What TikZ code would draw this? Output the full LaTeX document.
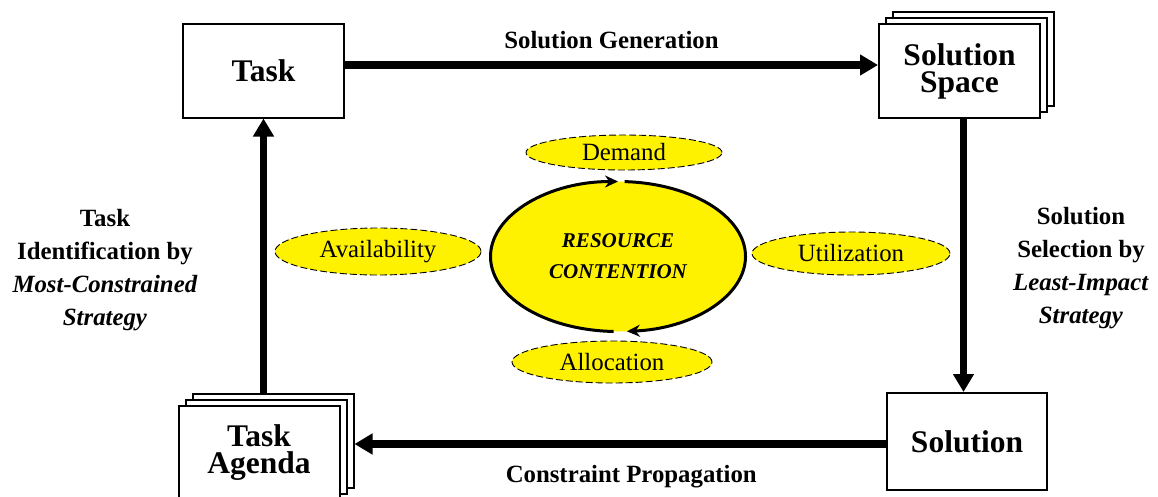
\documentclass[tikz,border=0pt]{standalone}
\usepackage{fontspec}
\setmainfont{Liberation Serif}
\usetikzlibrary{shapes.geometric,arrows.meta}
\newcommand{\BoxFont}{\fontsize{31.5}{27}\selectfont\bfseries}
\newcommand{\LblFont}{\fontsize{24.8}{33}\selectfont}
\newcommand{\RcFont}{\fontsize{21}{31}\selectfont\bfseries\itshape}

\begin{document}
\begin{tikzpicture}[x=1pt,y=-1pt,
box/.style={draw,fill=white,line width=2pt,minimum width=161pt,minimum height=94pt,inner sep=0pt,align=center,font=\BoxFont},
aspect/.style={ellipse,draw,dash pattern=on 7pt off 3pt,line width=0.9pt,fill=yellow,inner sep=0pt,font=\LblFont},
flow/.style={line width=7.5pt,-{Triangle[length=18pt,width=20pt]}},
loopline/.style={line width=3pt,-{Stealth[length=13pt,width=12pt]}},
lbl/.style={font=\LblFont\bfseries,align=center,inner sep=0pt}]

\useasboundingbox (0,0) rectangle (1158,496);

\node[box] (ss3) at (973.5,59) {};
\node[box] (ss2) at (966.5,65) {};
\node[box] (ss) at (959.5,71) {Solution\\Space};
\node[box] (task) at (263.5,70.5) {Task};
\node[box] (ta3) at (273,441) {};
\node[box] (ta2) at (266,447) {};
\node[box] (ta) at (259,453) {Task\\Agenda};
\node[box,minimum width=160pt,minimum height=97pt] (sol) at (967,441.5) {Solution};

\node[ellipse,fill=yellow,minimum width=255pt,minimum height=150pt,inner sep=0pt,align=center,font=\RcFont] (rc) at (618,256.5) {RESOURCE\\CONTENTION};
\node[aspect,minimum width=196pt,minimum height=35pt] (dem) at (624,152.5) {Demand};
\node[aspect,minimum width=206pt,minimum height=47pt] (avail) at (378,251.5) {Availability};
\node[aspect,minimum width=198pt,minimum height=43pt] (util) at (851,253.5) {Utilization};
\node[aspect,minimum width=200pt,minimum height=42pt] (alloc) at (612,362) {Allocation};

\draw[loopline] (rc.center) ++(273:127.5 and 75) arc[start angle=273,end angle=446,x radius=127.5,y radius=75];
\draw[loopline] (rc.center) ++(92:127.5 and 75) arc[start angle=92,end angle=270,x radius=127.5,y radius=75];

\node[lbl] (pick) at (105,270) {Task\\Identification by\\\textit{Most-Constrained}\\\textit{Strategy}};
\node[lbl] (select) at (1081,268) {Solution\\Selection by\\\textit{Least-Impact}\\\textit{Strategy}};

\path

([yshift=5.5pt]task.east)
edge [flow]
node [lbl,above=12.5pt] (gen) {Solution Generation}
([yshift=5.5pt]task.east -| ss.west)

([xshift=4pt]ss.south)
edge [flow]
([xshift=4pt]ss.south |- sol.north)

([yshift=-2.5pt]sol.west)
edge [flow]
node [lbl,below=18pt,xshift=11pt] (prop) {Constraint Propagation}
([yshift=-2.5pt]sol.west -| ta3.east)

(task.south |- ta3.north)
edge [flow]
(task.south)

;

\end{tikzpicture}
\end{document}
